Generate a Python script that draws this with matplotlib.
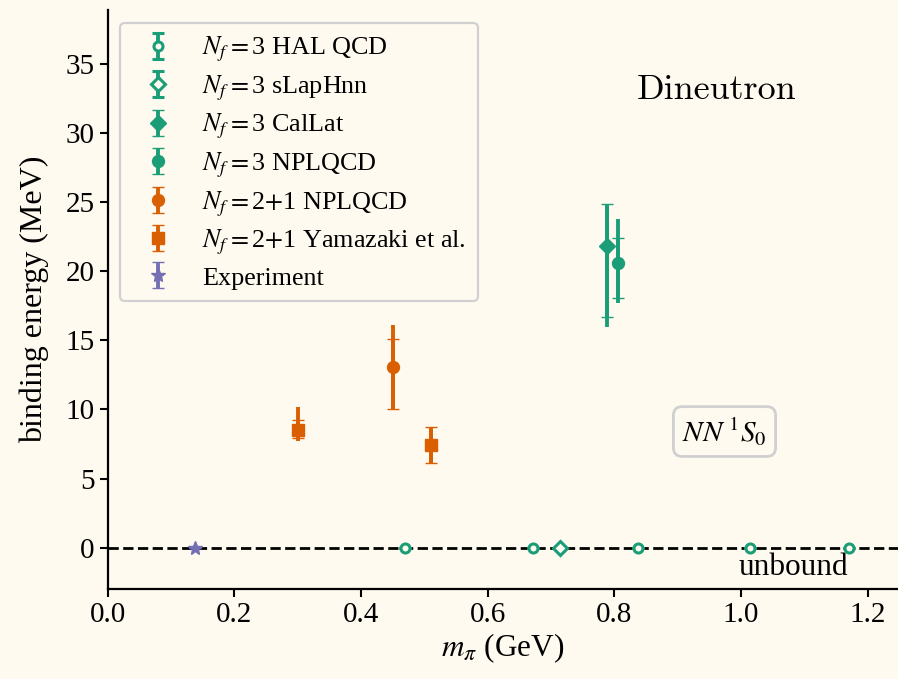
import matplotlib
matplotlib.use("Agg")
import matplotlib.pyplot as plt
import numpy as np

plt.rcParams['font.family'] = ['Liberation Serif', 'DejaVu Serif']
plt.rcParams['mathtext.fontset'] = 'stix'

BG = '#fffaf0'
GREEN = '#1b9e77'
ORANGE = '#d95f02'
PURPLE = '#7570b3'

# HAL QCD (Nf=3) - unbound
hal_mpi = [0.469, 0.672, 0.837, 1.015, 1.171]
hal_be = [0.0, 0.0, 0.0, 0.0, 0.0]

# sLapHnn (Nf=3) - unbound
slap_mpi = [0.714]
slap_be = [0.0]

# CalLat (Nf=3)
callat_mpi = [0.789]
callat_be = [21.8]
callat_stat_lo = [5.1]
callat_stat_hi = [3.1]
callat_tot_lo = [5.8]
callat_tot_hi = [3.1]

# NPLQCD (Nf=3)
npl3_mpi = [0.806]
npl3_be = [20.6]
npl3_stat_lo = [2.5]
npl3_stat_hi = [1.8]
npl3_tot_lo = [2.9]
npl3_tot_hi = [3.2]

# NPLQCD (Nf=2+1)
npl21_mpi = [0.450]
npl21_be = [13.1]
npl21_stat_lo = [3.1]
npl21_stat_hi = [2.0]
npl21_tot_lo = [3.1]
npl21_tot_hi = [3.0]

# Yamazaki et al. (Nf=2+1)
yam_mpi = [0.300, 0.510]
yam_be = [8.5, 7.4]
yam_stat_lo = [0.6, 1.3]
yam_stat_hi = [0.7, 1.3]
yam_tot_lo = [0.8, 1.3]
yam_tot_hi = [1.7, 1.3]

# Experiment
exp_mpi = [0.138]
exp_be = [0.0]

fig = plt.figure(figsize=(8.98, 6.79), dpi=100, facecolor=BG)
ax = fig.add_axes([0.12, 0.1325, 0.88, 0.8525], facecolor=BG)

ELW = 2.8
CAP = 4.3
CTH = 1.6

ax.axhline(0, color='black', ls='--', lw=2.0, zorder=1)

def series(x, y, slo, shi, tlo, thi, color, marker, ms, label, mfc=None, mew=1.0):
    ax.errorbar(x, y, yerr=[tlo, thi], fmt='none', ecolor=color, elinewidth=ELW,
                capsize=0, zorder=2)
    ax.errorbar(x, y, yerr=[slo, shi], fmt=marker, color=color, ms=ms,
                mfc=mfc if mfc else color, mec=color, mew=mew,
                elinewidth=ELW, capsize=CAP, capthick=CTH, label=label, zorder=3)

zeros5 = [0.0] * len(hal_mpi)
series(hal_mpi, hal_be, zeros5, zeros5, zeros5, zeros5, GREEN, 'o', 6.5,
       r'$N_f=$3 HAL QCD', mfc=BG, mew=2.2)
series(slap_mpi, slap_be, [0.0], [0.0], [0.0], [0.0], GREEN, 'D', 7.5,
       r'$N_f=$3 sLapHnn', mfc=BG, mew=2.2)
series(callat_mpi, callat_be, callat_stat_lo, callat_stat_hi, callat_tot_lo, callat_tot_hi,
       GREEN, 'D', 8.0, r'$N_f=$3 CalLat')
series(npl3_mpi, npl3_be, npl3_stat_lo, npl3_stat_hi, npl3_tot_lo, npl3_tot_hi,
       GREEN, 'o', 8.6, r'$N_f=$3 NPLQCD')
series(npl21_mpi, npl21_be, npl21_stat_lo, npl21_stat_hi, npl21_tot_lo, npl21_tot_hi,
       ORANGE, 'o', 8.6, r'$N_f=$2$+$1 NPLQCD')
series(yam_mpi, yam_be, yam_stat_lo, yam_stat_hi, yam_tot_lo, yam_tot_hi,
       ORANGE, 's', 8.6, r'$N_f=$2$+$1 Yamazaki et al.')
series(exp_mpi, exp_be, [0.0], [0.0], [0.0], [0.0], PURPLE, '*', 10.5, 'Experiment')

ax.set_xlim(0, 1.248)
ax.set_ylim(-3, 38.9)
ax.set_xticks([0.0, 0.2, 0.4, 0.6, 0.8, 1.0, 1.2])
ax.set_yticks([0, 5, 10, 15, 20, 25, 30, 35])
ax.tick_params(labelsize=21, width=1.5, length=6, direction='out')
for s in ['top', 'right']:
    ax.spines[s].set_visible(False)
for s in ['left', 'bottom']:
    ax.spines[s].set_linewidth(1.6)

ax.set_xlabel(r'$m_\pi$ (GeV)', fontsize=22.5, labelpad=2)
ax.set_ylabel('binding energy (MeV)', fontsize=23, labelpad=12)

leg = ax.legend(loc='upper left', bbox_to_anchor=(-0.001, 1.0), fontsize=18.8,
                frameon=True, fancybox=True, facecolor=BG, edgecolor='#d0d0d0',
                framealpha=1.0, labelspacing=0.35, handlelength=2.0, handletextpad=0.7,
                borderpad=0.45)
leg.get_frame().set_linewidth(1.6)

ax.text(0.962, 33.1, 'Dineutron', fontsize=26, family='cmr10', ha='center', va='center')
ax.text(0.974, 8.4, r'$NN\ {}^1S_0$', fontsize=21, ha='center', va='center',
        bbox=dict(boxstyle='round,pad=0.3', facecolor=BG, edgecolor='#d0d0d0', lw=2))
ax.text(1.17, -0.4, 'unbound', fontsize=22.5, ha='right', va='top')

fig.savefig('out.png', dpi=100, facecolor=BG)
